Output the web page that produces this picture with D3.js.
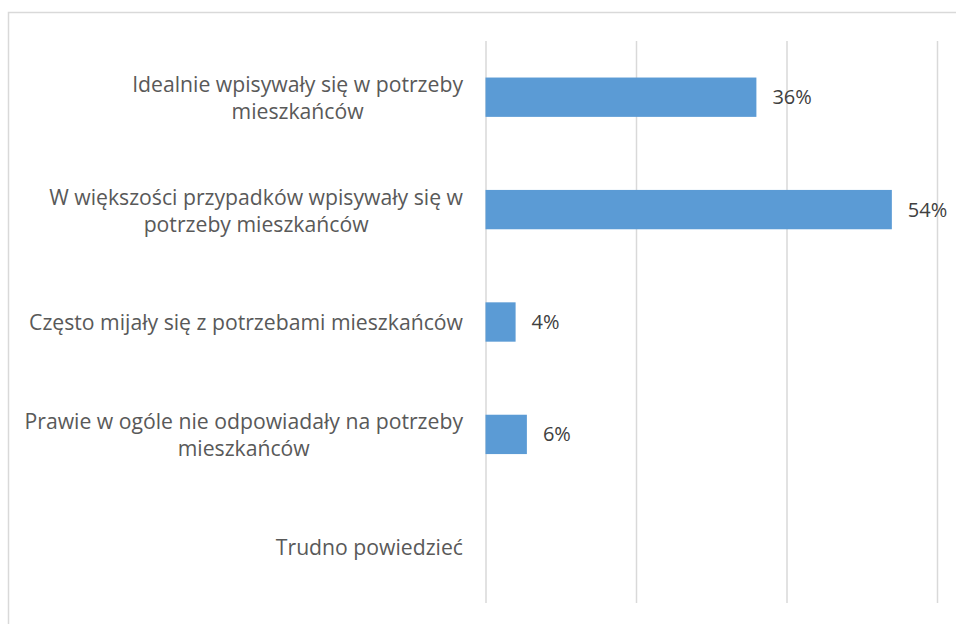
<!DOCTYPE html>
<html>
<head>
<meta charset="utf-8">
<script src="https://cdn.jsdelivr.net/npm/d3@7"></script>
<style>
  html, body { margin: 0; padding: 0; background: #fff; }
  svg { display: block; }
</style>
</head>
<body>
<svg id="chart" width="956" height="624"></svg>
<script>
// ---- data ----
const categories = [
  "Idealnie wpisywały się w potrzeby|mieszkańców",
  "W większości przypadków wpisywały się w|potrzeby mieszkańców",
  "Często mijały się z potrzebami mieszkańców",
  "Prawie w ogóle nie odpowiadały na potrzeby|mieszkańców",
  "Trudno powiedzieć"
];
const values = [36, 54, 4, 5.5, null];
const valueLabels = ["36%", "54%", "4%", "6%", ""];
const xTicks = [0, 20, 40, 60];

// ---- layout ----
const svg = d3.select("#chart");
const font = "'Open Sans', 'Noto Sans', sans-serif";
const plot = { left: 485.5, right: 937, top: 41, bottom: 603 };

const x = d3.scaleLinear().domain([0, 60]).range([plot.left, plot.right]);
const y = d3.scaleBand().domain(categories).range([plot.top, plot.bottom])
  .paddingInner(0.65).paddingOuter(0.325);

// chart border
svg.append("rect")
  .attr("x", 8.5).attr("y", 12.5)
  .attr("width", 1200).attr("height", 1200)
  .attr("fill", "none").attr("stroke", "#d9d9d9").attr("stroke-width", 1.5);

// gridlines via axis
const gridAxis = d3.axisBottom(x).tickValues(xTicks)
  .tickSize(-(plot.bottom - plot.top)).tickFormat("");
const grid = svg.append("g")
  .attr("transform", `translate(0,${plot.bottom})`)
  .call(gridAxis);
grid.select(".domain").remove();
grid.selectAll(".tick line").attr("stroke", "#d9d9d9").attr("stroke-width", 1.5);

const rows = categories.map((c, i) => ({ c, v: values[i], l: valueLabels[i] })).filter(d => d.v != null);

// bars
svg.append("g").selectAll("rect")
  .data(rows)
  .join("rect")
  .attr("x", x(0))
  .attr("y", d => y(d.c))
  .attr("width", d => x(d.v) - x(0))
  .attr("height", y.bandwidth())
  .attr("fill", "#5b9bd5");

// value labels
svg.append("g").selectAll("text")
  .data(rows)
  .join("text")
  .attr("x", d => x(d.v) + 16)
  .attr("y", d => y(d.c) + y.bandwidth() / 2)
  .attr("dy", "0.35em")
  .attr("font-family", font)
  .attr("font-size", 20)
  .attr("fill", "#404040")
  .text(d => d.l);

// category labels: block right-aligned, lines centered in block
const labelRight = 463;
const lineH = 27;
const fs = 21.2;
const labG = svg.append("g");
categories.forEach(c => {
  const lines = c.split("|");
  const cy = y(c) + y.bandwidth() / 2 + 1;
  const t = labG.append("text")
    .attr("font-family", font)
    .attr("font-size", fs)
    .attr("fill", "#595959")
    .attr("text-anchor", "middle");
  const tspans = lines.map((ln, i) => t.append("tspan")
    .attr("y", cy + (i - (lines.length - 1) / 2) * lineH)
    .attr("dy", "0.35em")
    .text(ln));
  const w = d3.max(tspans, s => s.node().getComputedTextLength());
  tspans.forEach(s => s.attr("x", labelRight - w / 2));
});
</script>
</body>
</html>
